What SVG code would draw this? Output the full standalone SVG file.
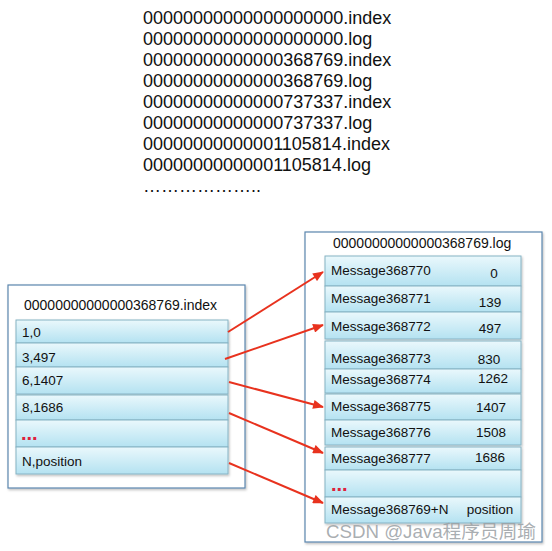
<svg xmlns="http://www.w3.org/2000/svg" width="552" height="551" viewBox="0 0 552 551">
<defs>
<linearGradient id="rowg" x1="0" y1="0" x2="0" y2="1">
<stop offset="0" stop-color="#eaf8fc"/>
<stop offset="1" stop-color="#b4e2f1"/>
</linearGradient>
<filter id="sh" x="-5%" y="-5%" width="112%" height="125%">
<feDropShadow dx="1" dy="1.5" stdDeviation="1" flood-color="#000" flood-opacity="0.25"/>
</filter>
<marker id="ah" viewBox="0 0 12 10" refX="11" refY="5" markerWidth="12" markerHeight="9" markerUnits="userSpaceOnUse" orient="auto">
<path d="M0,0 L12,5 L0,10 z" fill="#e8321e"/>
</marker>
</defs>
<style>
text{font-family:"Liberation Sans",Arial,sans-serif;fill:#111}
.files text{font-size:18px}
.t14{font-size:14px}
.t13{font-size:13.5px}
.outer{fill:#fff;stroke:#5b86ae;stroke-width:1.2}
.row{fill:url(#rowg);stroke:#86b3c4;stroke-width:1}
.dots{font-size:20px;font-weight:bold;fill:#e0203a}
.num{text-anchor:middle}
.arrow{stroke:#e8321e;stroke-width:2;fill:none;marker-end:url(#ah)}
</style>
<rect width="552" height="551" fill="#fff"/>
<g id="filelist" class="files">
<text x="143" y="24">00000000000000000000.index</text>
<text x="143" y="45">00000000000000000000.log</text>
<text x="143" y="66">00000000000000368769.index</text>
<text x="143" y="87">00000000000000368769.log</text>
<text x="143" y="108">00000000000000737337.index</text>
<text x="143" y="129">00000000000000737337.log</text>
<text x="143" y="150">00000000000001105814.index</text>
<text x="143" y="171">00000000000001105814.log</text>
<text x="143" y="192">………………..</text>
</g>
<g id="indexfile">
<rect class="outer" x="8" y="285" width="237" height="203" filter="url(#sh)"/>
<text class="t14" x="24" y="310">00000000000000368769.index</text>
<g filter="url(#sh)">
<rect class="row" x="16" y="320" width="212" height="23"/>
<rect class="row" x="16" y="343" width="212" height="24"/>
<rect class="row" x="16" y="367" width="212" height="27"/>
<rect class="row" x="16" y="395" width="212" height="25"/>
<rect class="row" x="16" y="420" width="212" height="27"/>
<rect class="row" x="16" y="447" width="212" height="27"/>
</g>
<text class="t13" x="22" y="337">1,0</text>
<text class="t13" x="22" y="362">3,497</text>
<text class="t13" x="22" y="385">6,1407</text>
<text class="t13" x="22" y="412">8,1686</text>
<text class="dots" x="21" y="440">...</text>
<text class="t13" x="22" y="466">N,position</text>
</g>
<g id="logfile">
<rect class="outer" x="305" y="232" width="237" height="310" filter="url(#sh)"/>
<text class="t14" x="333" y="248">00000000000000368769.log</text>
<g filter="url(#sh)">
<rect class="row" x="325" y="256" width="196" height="30"/>
<rect class="row" x="325" y="286" width="196" height="26"/>
<rect class="row" x="325" y="312" width="196" height="27"/>
<rect class="row" x="325" y="341" width="196" height="28"/>
<rect class="row" x="325" y="369" width="196" height="24"/>
<rect class="row" x="325" y="394" width="196" height="26"/>
<rect class="row" x="325" y="420" width="196" height="25"/>
<rect class="row" x="325" y="447" width="196" height="23"/>
<rect class="row" x="325" y="470" width="196" height="27"/>
<rect class="row" x="325" y="497" width="196" height="26"/>
</g>
<text class="t13" x="331" y="275">Message368770</text>
<text class="t13 num" x="494" y="278">0</text>
<text class="t13" x="331" y="303">Message368771</text>
<text class="t13 num" x="490" y="307">139</text>
<text class="t13" x="331" y="331">Message368772</text>
<text class="t13 num" x="490" y="333">497</text>
<text class="t13" x="331" y="363">Message368773</text>
<text class="t13 num" x="489" y="364">830</text>
<text class="t13" x="331" y="384">Message368774</text>
<text class="t13 num" x="493" y="383">1262</text>
<text class="t13" x="331" y="411">Message368775</text>
<text class="t13 num" x="491" y="412">1407</text>
<text class="t13" x="331" y="437">Message368776</text>
<text class="t13 num" x="491" y="437">1508</text>
<text class="t13" x="331" y="463">Message368777</text>
<text class="t13 num" x="490" y="462">1686</text>
<text class="dots" x="331" y="491">...</text>
<text class="t13" x="331" y="514">Message368769+N</text>
<text class="t13 num" x="490" y="514">position</text>
</g>
<g id="connectors">
<line class="arrow" x1="228" y1="332" x2="323" y2="272"/>
<line class="arrow" x1="225" y1="359" x2="323" y2="325"/>
<line class="arrow" x1="229" y1="382" x2="323" y2="407"/>
<line class="arrow" x1="229" y1="413" x2="323" y2="453"/>
<line class="arrow" x1="229" y1="463" x2="323" y2="503"/>
</g>
<text x="326" y="538" style="font-size:18.7px;fill:#9aa0a4;fill-opacity:0.85;font-family:'Liberation Sans','Noto Sans CJK SC',sans-serif">CSDN @Java程序员周瑜</text>
</svg>
